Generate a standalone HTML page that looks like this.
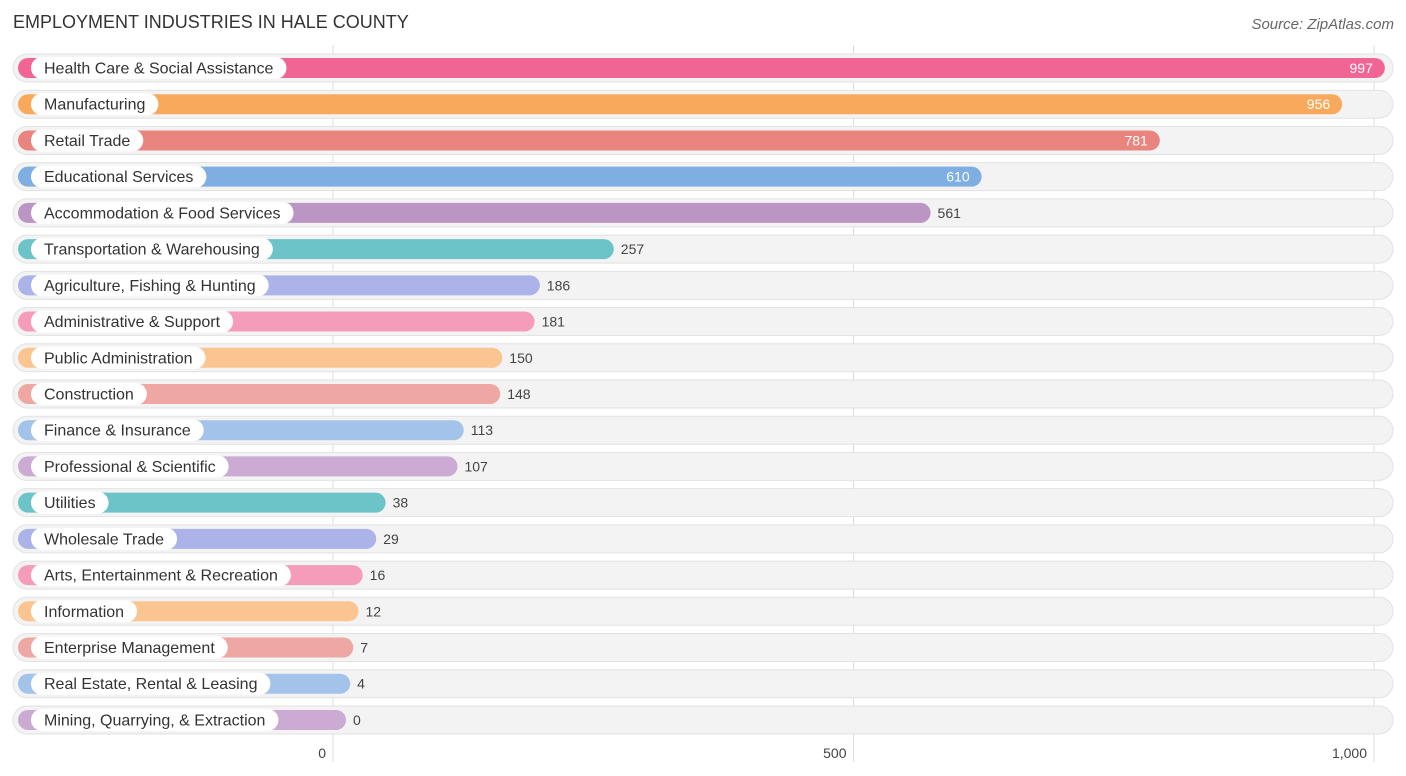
<!DOCTYPE html>
<html><head><meta charset="utf-8"><style>
body{margin:0;background:#fff;font-family:"Liberation Sans",sans-serif;}
#wrap{position:relative;width:1406px;height:776px;overflow:hidden;}
.title{position:absolute;left:13px;top:12px;font-size:18px;color:#333;}
.src{position:absolute;right:12px;top:16px;font-size:15px;color:#666;font-style:italic;}
</style></head><body>
<div id="wrap">
<div class="title">EMPLOYMENT INDUSTRIES IN HALE COUNTY</div>
<div class="src">Source: ZipAtlas.com</div>
<svg id="svg" width="1406" height="776" style="position:absolute;left:0;top:0"></svg>
</div>
<script>
const categories=["Health Care & Social Assistance","Manufacturing","Retail Trade","Educational Services","Accommodation & Food Services","Transportation & Warehousing","Agriculture, Fishing & Hunting","Administrative & Support","Public Administration","Construction","Finance & Insurance","Professional & Scientific","Utilities","Wholesale Trade","Arts, Entertainment & Recreation","Information","Enterprise Management","Real Estate, Rental & Leasing","Mining, Quarrying, & Extraction"];
const values=[997,956,781,610,561,257,186,181,150,148,113,107,38,29,16,12,7,4,0];
const tickValues=[0,500,1000];
const tickLabels=["0","500","1,000"];
const colors=["#f06593","#f9a95b","#e9857e","#7eaee2","#bb95c3","#6cc4c8","#abb3e8","#f59cba","#fbc592","#eea7a3","#a3c3eb","#cbaad3","#6cc4c8","#abb3e8","#f59cba","#fbc592","#eea7a3","#a3c3eb","#cbaad3"];
const NS="http://www.w3.org/2000/svg";
const svg=document.getElementById('svg');
function mk(t,a,p){const e=document.createElementNS(NS,t);for(const k in a)e.setAttribute(k,a[k]);(p||svg).appendChild(e);return e;}
const x0=333,k=1.041;
function xg(v){return x0+v*k;}
function barEnd(v){return 346+v*1.042;}
function yc(i){return 68+i*36.22;}
tickValues.forEach((t,i)=>{
 const g=mk('line',{x1:xg(t),x2:xg(t),y1:45,y2:762,stroke:'#ddd','stroke-width':1});
 
 
 const tx=mk('text',{x:xg(t)-7,y:758,'text-anchor':'end','font-size':14,fill:'#444'});
 tx.textContent=tickLabels[i];
 
 
});
categories.forEach((c,i)=>{
 const y=yc(i);const col=colors[i%colors.length];
 const g=mk('g',{});
 
 
 const tr=mk('rect',{x:13,y:y-14,width:1380,height:28,rx:14,fill:'#f3f3f3',stroke:'#e2e2e2','stroke-width':1},g);
 
 
 const e=barEnd(values[i]);
 const b=mk('rect',{x:18,y:y-10,width:e-18,height:20,rx:10,fill:col},g);
 
 
 const lt=mk('text',{x:44,y:y+5.5,'font-size':16,fill:'#333'},g);
 lt.textContent=c;
 
 
 const w=lt.getComputedTextLength();
 const pill=mk('rect',{x:31,y:y-11,width:w+26,height:22,rx:11,fill:'#fff'},g);
 
 
 g.insertBefore(pill,lt);
 const inside=values[i]>=600;
 const vt=mk('text',{x:inside?e-12:e+7,y:y+5,'font-size':14,fill:inside?'#fff':'#444','text-anchor':inside?'end':'start'},g);
 vt.textContent=values[i];
 
 
});
</script>
</body></html>
